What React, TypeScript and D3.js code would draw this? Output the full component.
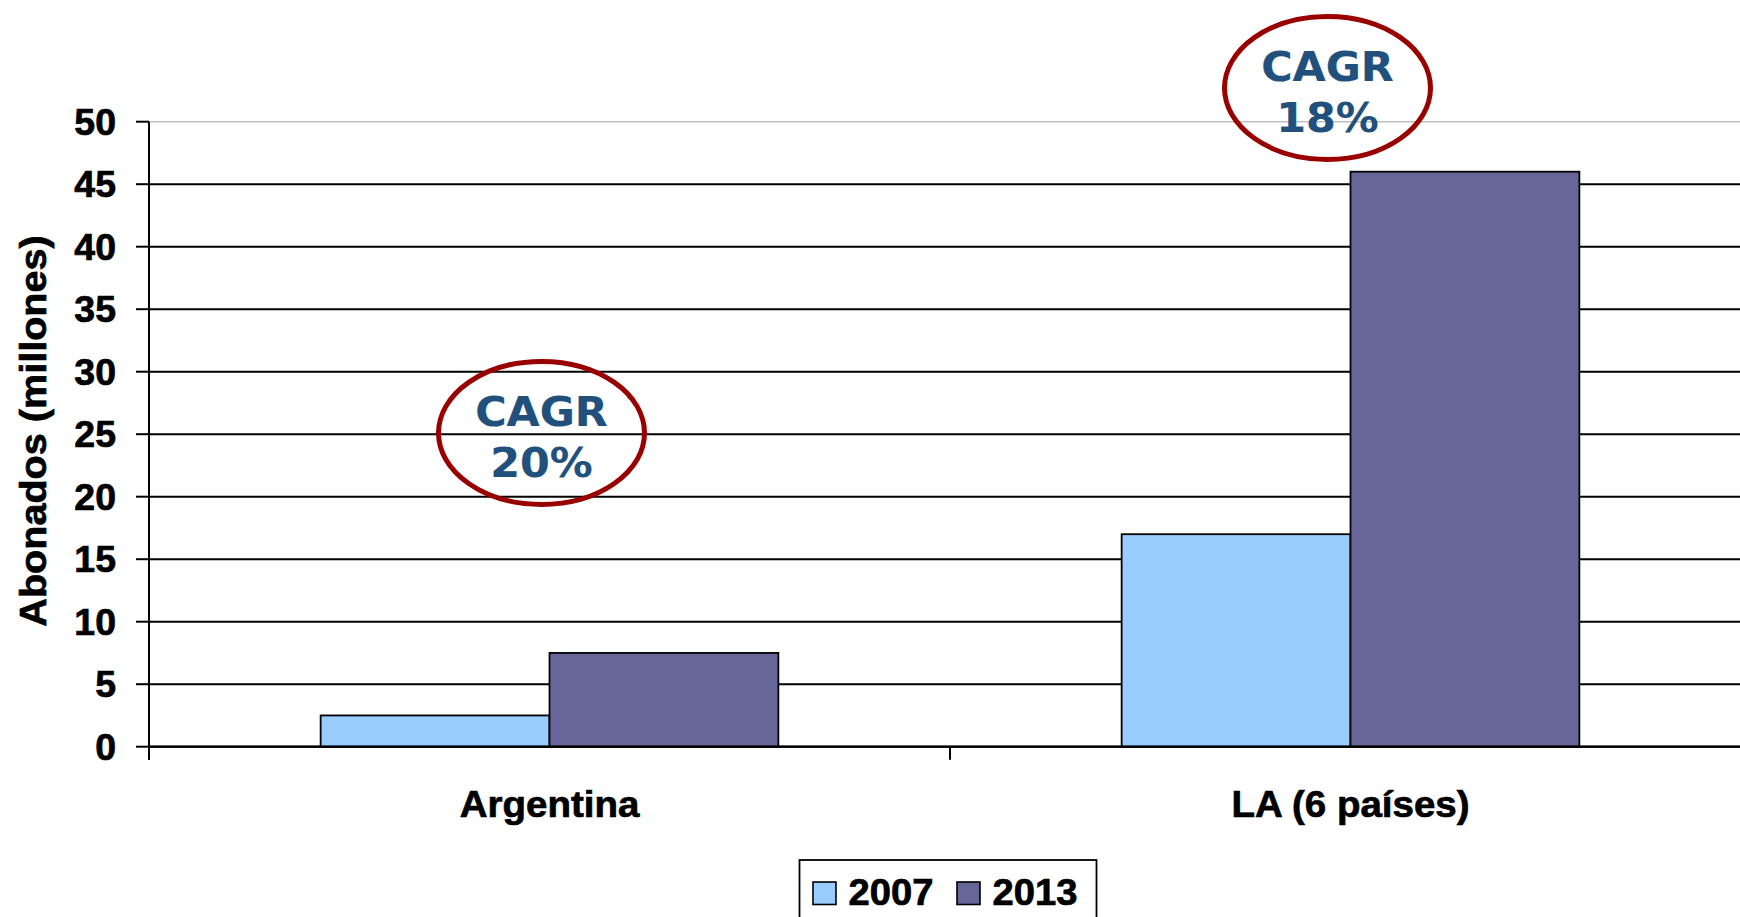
import React from "react";
import * as d3 from "d3";

const categories = ["Argentina", "LA (6 países)"];
const seriesNames = ["2007", "2013"];
const values2007 = [2.5, 17];
const values2013 = [7.5, 46];
const yTicks = [0, 5, 10, 15, 20, 25, 30, 35, 40, 45, 50];
const seriesColors = ["#99CCFF", "#666699"];
const annotCategories = ["Argentina", "LA (6 países)"];
const annotLabels = ["20%", "18%"];
const annotY = [25.1, 52.7];
const annotDx = [-8, -23];

const W = 1740;
const H = 917;
const FONT = "'Liberation Sans', Arial, sans-serif";

function SText(props: any) {
  const { x, y, size, anchor, rotate, sx, children, family, fill, sw } = props;
  const tr = `translate(${x},${y})${rotate ? ` rotate(${rotate})` : ""} scale(${sx || 1.05},1)`;
  const col = fill || "#000";
  return (
    <text
      transform={tr}
      fontFamily={family || FONT}
      fontWeight="bold"
      fontSize={size}
      textAnchor={anchor || "start"}
      fill={col}
      stroke={col}
      strokeWidth={sw === undefined ? 0.7 : sw}
    >
      {children}
    </text>
  );
}

export default function App() {
  const plotLeft = 149;
  const plotRight = 1751;
  const y = d3.scaleLinear().domain([0, 50]).range([746.7, 121.7]);
  const x0 = d3.scaleBand<string>().domain(categories).range([plotLeft, plotRight]).paddingInner(0).paddingOuter(0);
  const bw = x0.bandwidth() / 3.5;
  const x1 = d3.scaleBand<string>().domain(seriesNames).range([0, 2 * bw]);
  const groupOffset = (x0.bandwidth() - 2 * bw) / 2;
  const seriesValues = [values2007, values2013];

  const y0 = y(0);
  return (
    <svg
      width={W}
      height={H}
      style={{ position: "absolute", left: 0, top: 0, background: "#fff" }}
    >
      <rect x={0} y={0} width={W} height={H} fill="#fff" />
      {yTicks.map((t) => (
        <line
          key={"g" + t}
          x1={plotLeft}
          x2={plotRight}
          y1={y(t)}
          y2={y(t)}
          stroke={t === 50 ? "#c0c0c0" : "#000"}
          strokeWidth={t === 50 ? 1.5 : 2}
        />
      ))}
      {categories.map((c, ci) =>
        seriesNames.map((s, si) => {
          const v = seriesValues[si][ci];
          const bx = (x0(c) as number) + groupOffset + (x1(s) as number);
          return (
            <rect
              key={c + s}
              x={bx}
              y={y(v)}
              width={x1.bandwidth()}
              height={y0 - y(v)}
              fill={seriesColors[si]}
              stroke="#000"
              strokeWidth={1.8}
            />
          );
        })
      )}
      <line x1={plotLeft} x2={plotRight} y1={y0} y2={y0} stroke="#000" strokeWidth={2.2} />
      {[...categories.map((c) => x0(c) as number), plotRight].map((xx, i) => (
        <line key={"ct" + i} x1={xx} x2={xx} y1={y0} y2={y0 + 13} stroke="#000" strokeWidth={2} />
      ))}
      <line x1={plotLeft} x2={plotLeft} y1={y(50)} y2={y0 + 13} stroke="#000" strokeWidth={2} />
      {yTicks.map((t) => (
        <g key={"yt" + t}>
          <line x1={plotLeft - 13} x2={plotLeft} y1={y(t)} y2={y(t)} stroke="#000" strokeWidth={2} />
          <SText x={116} y={y(t) + 13} size={36} sx={1.04} anchor="end">
            {t}
          </SText>
        </g>
      ))}
      {categories.map((c) => (
        <SText key={"cl" + c} x={(x0(c) as number) + x0.bandwidth() / 2} y={817} size={37} sx={1.04} anchor="middle">
          {c}
        </SText>
      ))}
      <SText x={46} y={431} size={37} sx={1.07} anchor="middle" rotate={-90}>
        Abonados (millones)
      </SText>
      {annotCategories.map((c, i) => {
        const cx = (x0(c) as number) + x0.bandwidth() / 2 + annotDx[i];
        const cy = y(annotY[i]);
        return (
          <g key={"an" + i}>
            <ellipse cx={cx} cy={cy} rx={103} ry={71.5} fill="none" stroke="#990000" strokeWidth={5} />
            <SText x={cx} y={cy - 7} size={40} sx={1.07} sw={0.2} anchor="middle" family="'DejaVu Sans', Verdana, sans-serif" fill="#21507D">
              CAGR
            </SText>
            <SText x={cx} y={cy + 44} size={40} sx={1.07} sw={0.2} anchor="middle" family="'DejaVu Sans', Verdana, sans-serif" fill="#21507D">
              {annotLabels[i]}
            </SText>
          </g>
        );
      })}
      <g>
        <rect x={799.5} y={860} width={297} height={80} fill="#fff" stroke="#000" strokeWidth={1.8} />
        {seriesNames.map((s, i) => {
          const lx = 813 + i * 144;
          return (
            <g key={"lg" + s}>
              <rect x={lx} y={882} width={23} height={22.5} fill={seriesColors[i]} stroke="#000" strokeWidth={1.6} />
              <SText x={lx + 35.5} y={904.5} size={36} sx={1.06}>
                {s}
              </SText>
            </g>
          );
        })}
      </g>
    </svg>
  );
}
